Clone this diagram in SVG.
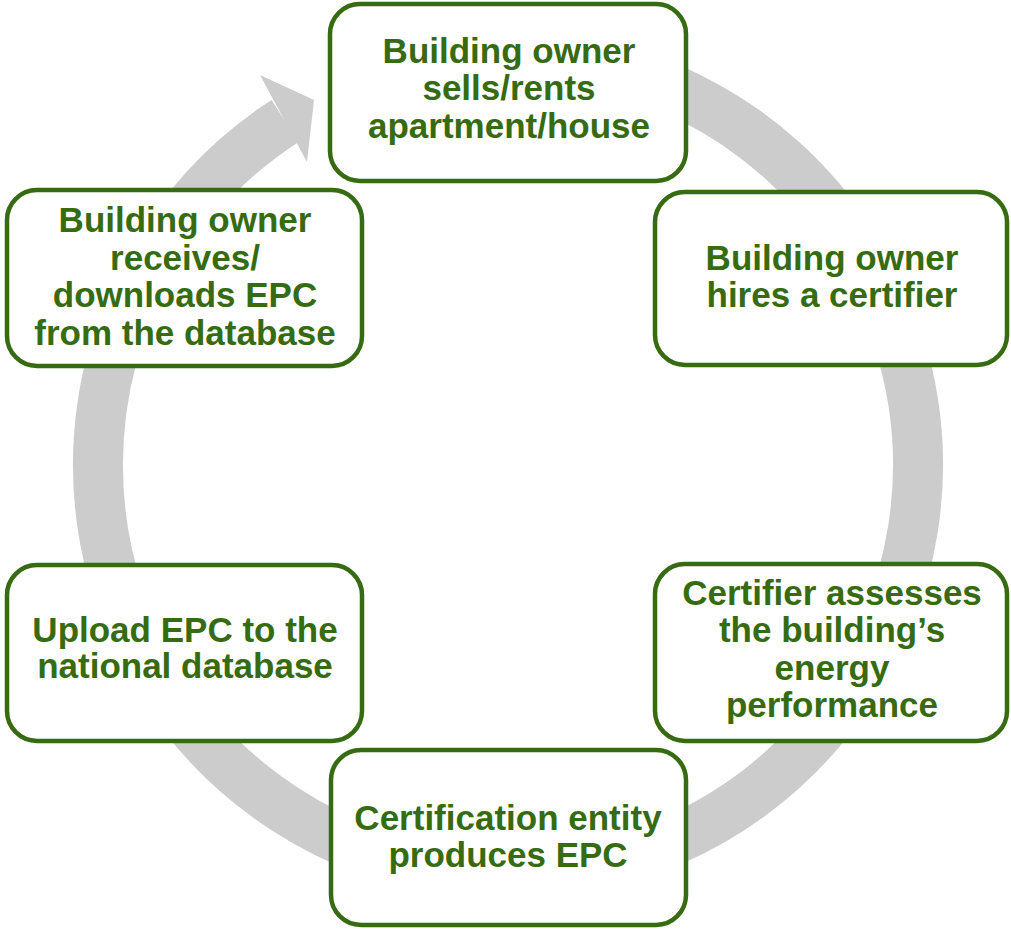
<svg xmlns="http://www.w3.org/2000/svg" width="1011" height="929" viewBox="0 0 1011 929">
<style>
.box{fill:#ffffff;stroke:#376b12;stroke-width:4.5}
.lbl{font-family:"Liberation Sans",Arial,sans-serif;font-weight:bold;font-size:35px;fill:#376b12;text-anchor:middle}
.ring{fill:none;stroke:#cccccc;stroke-width:50}
.head{fill:#cccccc}
</style>
<rect width="1011" height="929" fill="#ffffff"/>
<g id="connectors">
<path class="ring" d="M 401.9 69 A 410 410 0 1 1 285.1 120.9"/>
<polygon class="head" points="260,75 314,100 307,162"/>
</g>
<g id="node-sells">
<rect class="box" x="330" y="4" width="356" height="177" rx="30"/>
<text class="lbl" x="509" y="63">Building owner</text>
<text class="lbl" x="509" y="100">sells/rents</text>
<text class="lbl" x="509" y="138">apartment/house</text>
</g>
<g id="node-hires">
<rect class="box" x="655" y="192" width="352" height="173" rx="30"/>
<text class="lbl" x="832" y="270">Building owner</text>
<text class="lbl" x="832" y="307">hires a certifier</text>
</g>
<g id="node-assesses">
<rect class="box" x="655" y="564" width="352" height="177" rx="30"/>
<text class="lbl" x="832" y="605">Certifier assesses</text>
<text class="lbl" x="832" y="642">the building’s</text>
<text class="lbl" x="832" y="680">energy</text>
<text class="lbl" x="832" y="717">performance</text>
</g>
<g id="node-produces">
<rect class="box" x="331" y="750" width="355" height="175" rx="30"/>
<text class="lbl" x="508" y="830">Certification entity</text>
<text class="lbl" x="508" y="867">produces EPC</text>
</g>
<g id="node-upload">
<rect class="box" x="7" y="565" width="355" height="176" rx="30"/>
<text class="lbl" x="185" y="642">Upload EPC to the</text>
<text class="lbl" x="185" y="678">national database</text>
</g>
<g id="node-receives">
<rect class="box" x="7" y="190" width="355" height="176" rx="30"/>
<text class="lbl" x="185" y="232">Building owner</text>
<text class="lbl" x="185" y="270">receives/</text>
<text class="lbl" x="185" y="307">downloads EPC</text>
<text class="lbl" x="185" y="345">from the database</text>
</g>
</svg>
